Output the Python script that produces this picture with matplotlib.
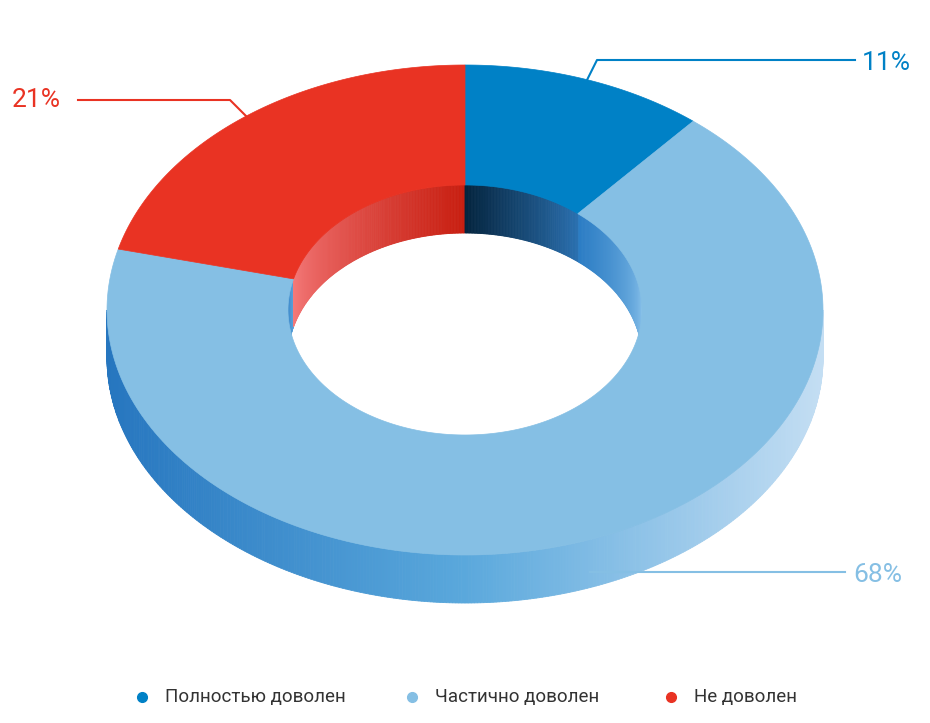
import numpy as np
import matplotlib
matplotlib.use("Agg")
import matplotlib.pyplot as plt
from matplotlib.patches import Polygon
from matplotlib.colors import to_rgb

categories = ["Полностью доволен", "Частично доволен", "Не доволен"]
values = [11, 68, 21]
labels = ["11%", "68%", "21%"]
colors = ["#0081c6", "#85bfe4", "#e93323"]

plt.rcParams['font.family'] = ['Roboto', 'DejaVu Sans']
fig = plt.figure(figsize=(9.3, 7.23), dpi=100)
ax = fig.add_axes([0, 0, 1, 1])
ax.set_xlim(0, 930); ax.set_ylim(723, 0); ax.axis('off')

cx, cy, a, b = 465, 310, 358, 245
ai, bi = 177, 125
h = 48

def pt(t, A, B, dy=0):
    r = np.radians(t)
    return (cx + A*np.sin(r), cy - B*np.cos(r) + dy)

def mix(c1, c2, f):
    f = min(max(f, 0.0), 1.0)
    c1, c2 = np.array(to_rgb(c1)), np.array(to_rgb(c2))
    return tuple(np.clip(c1 + (c2-c1)*f, 0, 1))

fr = np.cumsum([0] + values) / sum(values) * 360

# outer side wall (front)
for t in np.arange(90, 270, 0.5):
    p = [pt(t, a, b), pt(t+0.5, a, b), pt(t+0.5, a, b, h), pt(t, a, b, h)]
    x = pt(t, a, b)[0]
    f = (x - (cx-a)) / (2*a)
    if f < 0.5:
        c = mix("#2676bf", "#5aa8dc", f/0.5)
    else:
        c = mix("#5aa8dc", "#c4def3", (f-0.5)/0.5)
    ax.add_patch(Polygon(p, closed=True, fc=c, ec=c, lw=0.6))

# inner wall (back)
for t in np.arange(-90, 90, 0.5):
    tt = t % 360
    p = [pt(t, ai, bi), pt(t+0.5, ai, bi), pt(t+0.5, ai, bi, h), pt(t, ai, bi, h)]
    if tt >= fr[2]:
        c = mix("#f47a7a", "#c81e10", (tt - fr[2]) / (360 - fr[2]))
    elif tt < fr[1]:
        c = mix("#04243e", "#2a70b0", tt / fr[1])
    elif tt < 180:
        c = mix("#2a7cc4", "#8cc4ec", (tt - fr[1]) / (90 - fr[1]))
    else:
        c = mix("#2a7cc4", "#5aa0d8", (tt - 270) / (fr[2] - 270))
    ax.add_patch(Polygon(p, closed=True, fc=c, ec=c, lw=0.6))

# top faces
for i in range(3):
    ts = np.linspace(fr[i], fr[i+1], 200)
    outer = [pt(t, a, b) for t in ts]
    inner = [pt(t, ai, bi) for t in ts[::-1]]
    ax.add_patch(Polygon(outer + inner, closed=True, fc=colors[i], ec=colors[i], lw=0.5))

# labels
lab_col = ["#0081c6", "#85bfe4", "#e93323"]
ax.plot([587, 597, 855], [80, 60, 60], color=lab_col[0], lw=1.5)
ax.text(862, 63, labels[0], color=lab_col[0], fontsize=19, va='center', ha='left')
ax.plot([590, 845], [572, 572], color=lab_col[1], lw=1.5)
ax.text(853, 575, labels[1], color=lab_col[1], fontsize=19, va='center', ha='left')
ax.plot([248, 230, 78], [118, 100, 100], color=lab_col[2], lw=1.5)
ax.text(12, 100, labels[2], color=lab_col[2], fontsize=19, va='center', ha='left')

# legend
lx = [142, 412, 671]
for i in range(3):
    ax.plot(lx[i], 697, 'o', color=colors[i], ms=7)
    ax.text(lx[i]+23, 697, categories[i], fontsize=13.5, color="#333333", va='center', ha='left')

fig.savefig("out.png", dpi=100)
